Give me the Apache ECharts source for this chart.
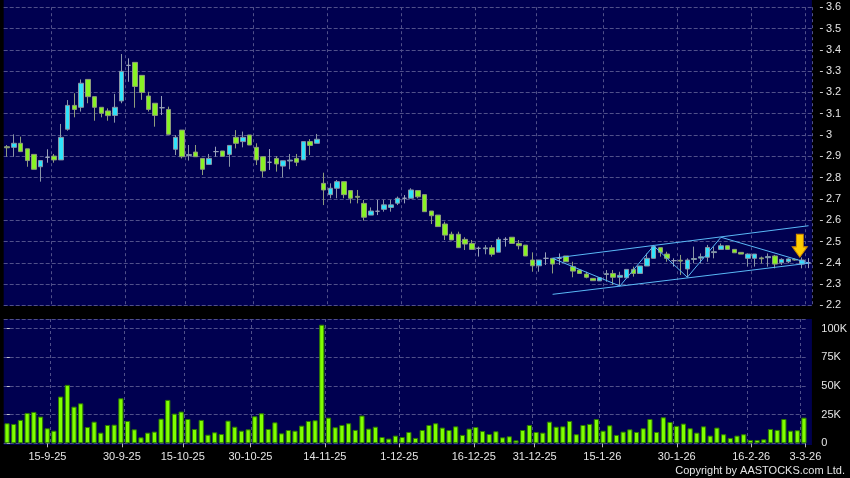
<!DOCTYPE html>
<html>
<head>
<meta charset="utf-8">
<script src="https://cdn.jsdelivr.net/npm/echarts@6/dist/echarts.min.js"></script>
<style>
html,body{margin:0;padding:0;background:#000;}
#c{width:850px;height:478px;}
</style>
</head>
<body>
<div id="c"></div>
<script>
// ---------- DATA ----------
const dates = [
'5-9-25','8-9-25','9-9-25','10-9-25','11-9-25','12-9-25','15-9-25','16-9-25','17-9-25','18-9-25','19-9-25','22-9-25','23-9-25','24-9-25','25-9-25','26-9-25','29-9-25','30-9-25',
'2-10-25','3-10-25','6-10-25','8-10-25','9-10-25','10-10-25','13-10-25','14-10-25','15-10-25','16-10-25','17-10-25','20-10-25','21-10-25','22-10-25','23-10-25','24-10-25','27-10-25','28-10-25','30-10-25','31-10-25',
'3-11-25','4-11-25','5-11-25','6-11-25','7-11-25','10-11-25','11-11-25','12-11-25','13-11-25','14-11-25','17-11-25','18-11-25','19-11-25','20-11-25','21-11-25','24-11-25','25-11-25','26-11-25','27-11-25','28-11-25',
'1-12-25','2-12-25','3-12-25','4-12-25','5-12-25','8-12-25','9-12-25','10-12-25','11-12-25','12-12-25','15-12-25','16-12-25','17-12-25','18-12-25','19-12-25','22-12-25','23-12-25','24-12-25','29-12-25','30-12-25','31-12-25',
'2-1-26','5-1-26','6-1-26','7-1-26','8-1-26','9-1-26','12-1-26','13-1-26','14-1-26','15-1-26','16-1-26','19-1-26','20-1-26','21-1-26','22-1-26','23-1-26','26-1-26','27-1-26','28-1-26','29-1-26','30-1-26',
'2-2-26','3-2-26','4-2-26','5-2-26','6-2-26','9-2-26','10-2-26','11-2-26','12-2-26','13-2-26','16-2-26','20-2-26','23-2-26','24-2-26','25-2-26','26-2-26','27-2-26',
'2-3-26','3-3-26','4-3-26'
];

const opens = [
2.945,2.942,2.961,2.935,2.909,2.851,2.895,2.901,2.883,3.027,
3.139,3.130,3.261,3.180,3.130,3.113,3.092,3.160,3.327,3.341,
3.280,3.183,3.149,3.128,3.120,2.933,3.023,2.904,2.920,2.890,
2.862,2.922,2.925,2.909,2.989,2.969,3.000,2.942,2.898,2.872,
2.890,2.854,2.878,2.890,2.883,2.969,2.961,2.773,2.720,2.750,
2.781,2.739,2.712,2.679,2.624,2.642,2.651,2.660,2.680,2.703,
2.703,2.739,2.720,2.643,2.624,2.582,2.534,2.534,2.510,2.491,
2.468,2.466,2.471,2.450,2.510,2.520,2.491,2.483,2.413,2.386,
2.421,2.421,2.421,2.432,2.382,2.366,2.347,2.327,2.315,2.345,
2.350,2.332,2.330,2.369,2.350,2.385,2.421,2.471,2.441,2.410,
2.412,2.371,2.416,2.422,2.426,2.448,2.463,2.480,2.463,2.449,
2.421,2.421,2.423,2.424,2.432,2.400,2.405,2.416,2.394,2.400
];
const closes = [
2.940,2.961,2.922,2.880,2.839,2.880,2.895,2.883,2.989,3.139,
3.120,3.243,3.180,3.130,3.102,3.091,3.130,3.299,3.327,3.228,
3.200,3.120,3.092,3.128,3.003,2.989,2.898,2.908,2.898,2.839,
2.890,2.922,2.900,2.951,2.961,2.989,2.953,2.883,2.831,2.872,
2.864,2.879,2.882,2.872,2.969,2.951,2.980,2.742,2.750,2.781,
2.720,2.703,2.708,2.614,2.643,2.642,2.672,2.672,2.703,2.703,
2.742,2.710,2.640,2.621,2.570,2.530,2.507,2.471,2.488,2.463,
2.468,2.470,2.440,2.510,2.510,2.491,2.480,2.432,2.386,2.413,
2.421,2.394,2.421,2.405,2.361,2.350,2.332,2.316,2.330,2.349,
2.332,2.341,2.369,2.350,2.385,2.421,2.476,2.449,2.421,2.410,
2.408,2.413,2.420,2.428,2.472,2.452,2.480,2.463,2.447,2.441,
2.441,2.441,2.419,2.429,2.394,2.416,2.418,2.413,2.413,2.400
];
const lows = [
2.898,2.898,2.920,2.851,2.839,2.781,2.870,2.870,2.883,3.020,
3.083,3.110,3.149,3.067,3.083,3.067,3.058,3.149,3.250,3.128,
3.165,3.110,3.039,3.094,3.003,2.906,2.890,2.880,2.898,2.812,
2.862,2.898,2.900,2.851,2.937,2.942,2.953,2.859,2.801,2.836,
2.828,2.801,2.839,2.854,2.883,2.906,2.961,2.671,2.703,2.703,
2.703,2.679,2.679,2.598,2.624,2.624,2.640,2.640,2.671,2.679,
2.703,2.703,2.640,2.582,2.570,2.507,2.507,2.471,2.460,2.463,
2.429,2.440,2.429,2.450,2.476,2.491,2.463,2.432,2.358,2.358,
2.390,2.350,2.390,2.405,2.332,2.350,2.327,2.316,2.315,2.311,
2.296,2.291,2.330,2.335,2.350,2.385,2.421,2.429,2.405,2.382,
2.343,2.332,2.398,2.398,2.405,2.421,2.463,2.463,2.447,2.441,
2.382,2.382,2.397,2.382,2.374,2.390,2.398,2.410,2.374,2.375
];
const highs = [
2.953,3.003,2.992,2.935,2.909,2.880,2.933,2.911,3.052,3.164,
3.196,3.261,3.261,3.180,3.130,3.125,3.193,3.380,3.360,3.341,
3.280,3.203,3.149,3.183,3.133,3.000,3.023,2.953,2.953,2.890,
2.911,2.945,2.925,2.951,3.023,3.016,3.000,2.961,2.898,2.934,
2.901,2.879,2.911,2.911,2.969,2.981,3.005,2.823,2.773,2.789,
2.781,2.739,2.742,2.695,2.660,2.695,2.695,2.695,2.711,2.718,
2.750,2.739,2.720,2.643,2.624,2.593,2.546,2.546,2.520,2.507,
2.476,2.483,2.483,2.520,2.520,2.520,2.507,2.483,2.449,2.413,
2.449,2.421,2.444,2.432,2.405,2.366,2.358,2.327,2.330,2.366,
2.366,2.358,2.369,2.382,2.385,2.444,2.484,2.471,2.452,2.421,
2.437,2.421,2.476,2.444,2.484,2.476,2.491,2.480,2.463,2.449,
2.444,2.441,2.429,2.444,2.437,2.421,2.421,2.420,2.425,2.422
];
// volume in thousands of shares
const volumesK = [
17.5,16.9,20.4,26.5,27.4,23.3,13.1,11.0,40.8,51.0,
32.0,34.9,14.2,18.9,9.3,16.0,16.3,39.3,19.5,12.2,
5.2,9.3,10.2,21.5,37.9,25.9,27.7,21.2,12.5,20.4,
7.5,9.6,8.1,19.8,14.5,11.0,12.2,23.6,26.2,12.5,
18.3,8.7,11.6,11.0,15.4,19.5,20.1,103.5,22.4,14.0,
16.0,17.5,11.7,24.2,12.8,14.5,5.5,4.1,6.7,5.5,
9.9,4.7,11.6,16.0,17.5,13.7,11.6,14.8,7.3,12.8,
14.2,10.7,8.1,10.5,5.2,6.1,2.6,11.6,16.0,9.9,
9.3,18.9,14.5,14.8,19.5,7.9,16.0,16.9,21.2,11.0,
15.7,7.3,10.2,12.2,9.9,13.1,21.2,9.9,22.7,18.6,
15.2,17.2,13.1,9.3,14.8,6.7,13.7,7.9,4.7,6.7,
7.9,2.9,2.9,3.5,12.5,11.7,21.2,11.0,11.4,22.4
];

const tickLabels = ['15-9-25','30-9-25','15-10-25','30-10-25','14-11-25','1-12-25','16-12-25','31-12-25','15-1-26','30-1-26','16-2-26','3-3-26'];
const priceTicks = [2.2,2.3,2.4,2.5,2.6,2.7,2.8,2.9,3.0,3.1,3.2,3.3,3.4,3.5,3.6];
const volTicks = [0,25000,50000,75000,100000];

// trend lines drawn on the chart: [day index, price]
const upperChannel = [[81,2.421],[119,2.574]];
const lowerChannel = [[81,2.252],[119,2.398]];
const zigzag = [[81,2.421],[91,2.291],[96,2.480],[101,2.332],[106,2.520],[119,2.399]];
const arrowAt = [118,2.426];

// ---------- CHART ----------
const candleData = opens.map((o,i)=>[o, closes[i], lows[i], highs[i]]);
const volumes = volumesK.map(v => Math.round(v*1000));
const tickIdx = tickLabels.map(t => dates.indexOf(t));
const splitAfter = new Set(tickIdx);

const FONT = 'Liberation Sans, Arial, sans-serif';
const GRID_COLOR = '#50508a';
const L = 3.7, W = 808.2;
const NAVY = '#000050';
const pMin = priceTicks[0], pMax = priceTicks[priceTicks.length-1];
const vMax = 108500;

const catSplit = {show:true, interval:(i)=>splitAfter.has(i-1), lineStyle:{color:GRID_COLOR, type:[3,3], width:1}};
const lblStyle = {color:'#e4e4e4', fontSize:11, fontFamily:FONT};
const gridOnlyAxis = (gi, min, max, step) => ({
  type:'value', gridIndex:gi, position:'left', min:min, max:max, interval:step,
  axisLine:{show:false}, axisTick:{show:false}, axisLabel:{show:false},
  splitLine:{show:true, lineStyle:{color:GRID_COLOR, type:'dashed', width:1}}
});

const chart = echarts.init(document.getElementById('c'), null, {renderer:'canvas'});
chart.setOption({
  backgroundColor:'#000000',
  animation:false,
  grid:[
    {left:L, width:W, top:7.2, height:298.2, show:false},
    {left:L, width:W, top:319, height:124.3, show:false}
  ],
  xAxis:[
    {type:'category', gridIndex:0, data:dates, boundaryGap:true, axisLine:{show:false}, axisTick:{show:false}, axisLabel:{show:false}, splitLine:catSplit},
    {type:'category', gridIndex:1, data:dates, boundaryGap:true, axisLine:{show:false}, axisTick:{show:false}, axisLabel:{show:false}, splitLine:catSplit},
    {type:'value', gridIndex:1, position:'bottom', offset:1.7, min:-0.46, max:118.29,
      axisLine:{show:false}, splitLine:{show:false},
      axisTick:{show:true, length:4, customValues:tickIdx, lineStyle:{color:'#b8b8b8'}},
      axisLabel:Object.assign({customValues:tickIdx, margin:6, formatter:(v)=>dates[Math.round(v)]}, lblStyle)}
  ],
  yAxis:[
    {type:'value', gridIndex:0, position:'right', offset:8, min:pMin, max:pMax, interval:0.1,
      axisLine:{show:false},
      axisTick:{show:true, length:3, lineStyle:{color:'#c8c8c8'}},
      axisLabel:Object.assign({margin:6}, lblStyle),
      splitLine:{show:false}},
    {type:'value', gridIndex:1, position:'right', offset:8, min:0, max:vMax, interval:25000,
      axisLine:{show:false},
      axisTick:{show:true, length:3, lineStyle:{color:'#c8c8c8'}},
      axisLabel:Object.assign({margin:6, showMaxLabel:false, formatter:(v)=> v===0 ? '0' : (v/1000)+'K'}, lblStyle),
      splitLine:{show:false}},
    gridOnlyAxis(0, pMin, pMax, 0.1),
    gridOnlyAxis(1, 0, vMax, 25000)
  ],
  series:[
    {type:'candlestick', xAxisIndex:0, yAxisIndex:0, data:candleData, barWidth:5, z:3,
      itemStyle:{color:'#2ee3fb', color0:'#88f224', borderColor:'#8a96a6', borderColor0:'#8e9c7c', borderColorDoji:'#9aa2ba', borderWidth:1}},
    {type:'bar', xAxisIndex:1, yAxisIndex:1, data:volumes, barWidth:5.2, z:3,
      itemStyle:{color:'#80ff00', borderColor:'#2d7a00', borderWidth:1}},
    {type:'line', xAxisIndex:0, yAxisIndex:0, data:upperChannel, symbol:'none', silent:true, z:5, lineStyle:{color:'#5ab8f6', width:1}},
    {type:'line', xAxisIndex:0, yAxisIndex:0, data:lowerChannel, symbol:'none', silent:true, z:5, lineStyle:{color:'#5ab8f6', width:1}},
    {type:'line', xAxisIndex:0, yAxisIndex:0, data:zigzag, symbol:'none', silent:true, z:5, lineStyle:{color:'#5ab8f6', width:1},
      markPoint:{silent:true, symbol:'path://M4,0 L11,0 L11,12 L15,12 L7.5,22 L0,12 L4,12 Z', symbolSize:[15,23], symbolOffset:[-2,-11.5],
        itemStyle:{color:'#ffcc00', borderColor:'#d08a00', borderWidth:1}, label:{show:false},
        data:[{coord:arrowAt}]}}
  ],
  graphic:[
    {type:'rect', z:-10, silent:true, shape:{x:L, y:0, width:W, height:306}, style:{fill:NAVY}},
    {type:'rect', z:-10, silent:true, shape:{x:L, y:319, width:W, height:126}, style:{fill:NAVY}},
    {type:'text', right:5, top:465, style:{text:'Copyright by AASTOCKS.com Ltd.', fill:'#e4e4e4', font:'11px Liberation Sans, Arial, sans-serif'}}
  ]
});
</script>
</body>
</html>
